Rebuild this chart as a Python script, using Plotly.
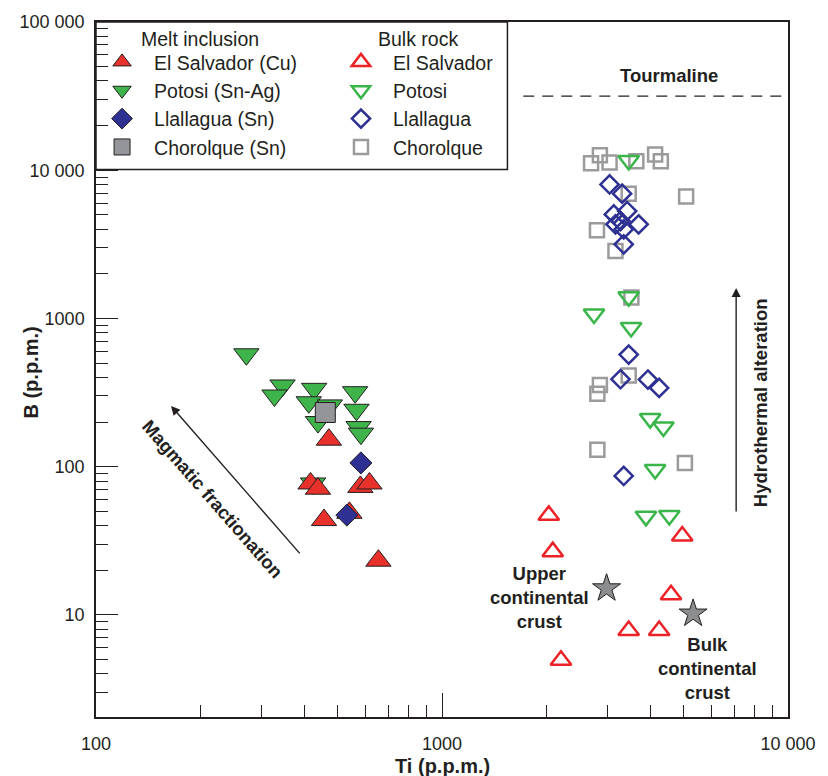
import plotly.graph_objects as go

# ---------------- data ----------------
melt_es_ti = [471, 417, 438, 581, 617, 456, 540, 655]
melt_es_b = [152, 77, 71, 73, 77, 43.6, 48.8, 23.2]

melt_pot_ti = [272, 346, 328, 427, 412, 474, 438, 561, 566, 574, 583, 424]
melt_pot_b = [573, 353, 302, 335, 272, 259, 200, 318, 242, 185, 167, 77]

melt_lla_ti = [583, 531]
melt_lla_b = [106, 47.1]

melt_cho_ti = [460]
melt_cho_b = [232]

bulk_es_ti = [2035, 2090, 4946, 4591, 3464, 4242, 2207]
bulk_es_b = [47, 26.7, 34, 13.65, 7.85, 7.85, 4.94]

bulk_pot_ti = [3464, 3464, 2750, 3520, 3997, 4364, 4130, 3886, 4540]
bulk_pot_b = [11620, 1400, 1071, 870, 211, 185, 95.6, 46.2, 46.9]

bulk_lla_ti = [3050, 3316, 3137, 3428, 3172, 3351, 3701, 3351, 3280, 3464, 3280, 3937, 4242, 3351]
bulk_lla_b = [8013, 6950, 5036, 5300, 4313, 3993, 4313, 3165, 4540, 570, 389, 387, 340, 86.6]

bulk_cho_ti = [2697, 2860, 3050, 3645, 4130, 4290, 3464, 5077, 2805, 3172, 3527, 3464, 2860, 2812, 2812, 5035]
bulk_cho_b = [11150, 12620, 11270, 11500, 12750, 11500, 6930, 6655, 3930, 2853, 1384, 412, 356, 310, 130, 106]

crust_ti = [2990, 5318]
crust_b = [15.1, 10.2]

tourmaline_b = 31600

x_tickvals = [100, 1000, 10000]
x_ticktext = ["100", "1000", "10 000"]
y_tickvals = [10, 100, 1000, 10000, 100000]
y_ticktext = ["10", "100", "1000", "10 000", "100 000"]

# ---------------- style ----------------
FONT = "Liberation Sans, Arial, Helvetica, sans-serif"
INK = "#231f20"
RED = "#e8312a"
GREEN = "#3fb44a"
BLUE = "#2e3192"
GRAY = "#939598"
RED_O = "#ec2227"
GREEN_O = "#3ab54a"
BLUE_O = "#2e3192"
GRAY_O = "#9b9b9b"

fig = go.Figure()

def filled(x, y, name, sym, color, size, legend, rank):
    fig.add_trace(go.Scatter(
        x=x, y=y, mode="markers", name=name, legend=legend, legendrank=rank,
        marker=dict(symbol=sym, size=size, color=color, line=dict(color=INK, width=1))))

def opened(x, y, name, sym, color, size, legend, rank):
    fig.add_trace(go.Scatter(
        x=x, y=y, mode="markers", name=name, legend=legend, legendrank=rank,
        marker=dict(symbol=sym + "-open", size=size, color=color, line=dict(color=color, width=2.5))))

# bulk rock (open)
opened(bulk_cho_ti, bulk_cho_b, "Chorolque", "square", GRAY_O, 14, "legend2", 4)
opened(bulk_lla_ti, bulk_lla_b, "Llallagua", "diamond", BLUE_O, 14, "legend2", 3)
opened(bulk_pot_ti, bulk_pot_b, "Potosi", "triangle-down", GREEN_O, 18, "legend2", 2)
opened(bulk_es_ti, bulk_es_b, "El Salvador", "triangle-up", RED_O, 18, "legend2", 1)

# melt inclusions (filled)
filled(melt_pot_ti, melt_pot_b, "Potosi (Sn-Ag)", "triangle-down", GREEN, 22, "legend", 2)
filled(melt_cho_ti, melt_cho_b, "Chorolque (Sn)", "square", GRAY, 20, "legend", 4)
filled(melt_es_ti, melt_es_b, "El Salvador (Cu)", "triangle-up", RED, 22, "legend", 1)
filled(melt_lla_ti, melt_lla_b, "Llallagua (Sn)", "diamond", BLUE, 17, "legend", 3)

# crust reference stars
fig.add_trace(go.Scatter(x=crust_ti, y=crust_b, mode="markers", showlegend=False,
                         marker=dict(symbol="star", size=21, color="#8c8d8f",
                                     line=dict(color=INK, width=1))))

minor_x = [m * 10 ** k for k in (2, 3) for m in range(2, 10)]
minor_y = [m * 10 ** k for k in (0, 1, 2, 3, 4) for m in range(2, 10)]

axis_common = dict(showline=True, linecolor=INK, linewidth=1.5, mirror=True,
                   showgrid=False, zeroline=False, ticks="inside", tickcolor=INK,
                   tickwidth=1.3, tickfont=dict(family=FONT, size=18, color=INK))

fig.update_xaxes(type="log", range=[2, 4], tickmode="array", tickvals=x_tickvals,
                 ticktext=x_ticktext, ticklen=24, ticklabelstandoff=10,
                 minor=dict(ticks="inside", ticklen=12, tickwidth=1.3, tickcolor=INK,
                            tickmode="array", tickvals=minor_x, showgrid=False),
                 **axis_common)
fig.update_yaxes(type="log", range=[0.311, 5.0], tickmode="array", tickvals=y_tickvals,
                 ticktext=y_ticktext, ticklen=22, ticklabelstandoff=6,
                 minor=dict(ticks="inside", ticklen=12, tickwidth=1.3, tickcolor=INK,
                            tickmode="array", tickvals=minor_y, showgrid=False),
                 **axis_common)

L, R, T, B = 96, 34, 20, 59
W, H = 828, 776
PW, PH = W - L - R, H - T - B

def px(xp):
    return (xp - L) / PW

def py(yp):
    return (H - B - yp) / PH

leg_common = dict(xanchor="left", yanchor="top", bgcolor="rgba(0,0,0,0)",
                  borderwidth=0, itemwidth=54, font=dict(family=FONT, size=19.5, color=INK),
                  traceorder="normal")

fig.update_layout(
    width=W, height=H,
    margin=dict(l=L, r=R, t=T, b=B),
    paper_bgcolor="white", plot_bgcolor="white",
    font=dict(family=FONT, color=INK),
    legend=dict(x=px(90), y=py(40.8), **leg_common),
    legend2=dict(x=px(331), y=py(40.8), **leg_common),
)

# legend frame
fig.add_shape(type="rect", xref="paper", yref="paper", x0=0, x1=px(511), y0=py(168), y1=1,
              line=dict(color=INK, width=1.5), layer="above")

# tourmaline line
fig.add_shape(type="line", xref="paper", yref="y", x0=px(527), x1=1,
              y0=tourmaline_b, y1=tourmaline_b,
              line=dict(color=INK, width=1.3, dash="11px,8px"))

bold = dict(family=FONT, size=18.5, color=INK)
C = dict(xanchor="center", yanchor="middle", xref="paper", yref="paper", showarrow=False)
ann = []
ann.append(dict(text="Melt inclusion", xref="paper", yref="paper", x=px(139), y=py(37),
                xanchor="left", yanchor="middle", showarrow=False,
                font=dict(family=FONT, size=19.5, color=INK)))
ann.append(dict(text="Bulk rock", xref="paper", yref="paper", x=px(378), y=py(37),
                xanchor="left", yanchor="middle", showarrow=False,
                font=dict(family=FONT, size=19.5, color=INK)))
ann.append(dict(text="<b>Tourmaline</b>", x=px(674), y=py(74), font=bold, **C))
ann.append(dict(text="<b>Upper<br>continental<br>crust</b>", x=px(543), y=py(597), font=bold, **C))
ann.append(dict(text="<b>Bulk<br>continental<br>crust</b>", x=px(713), y=py(668), font=bold, **C))
ann.append(dict(text="<b>Hydrothermal alteration</b>", x=px(767), y=py(402), textangle=-90,
                font=bold, **C))
ann.append(dict(text="<b>Magmatic fractionation</b>", x=px(214), y=py(499), textangle=48.8,
                font=bold, **C))
# arrows
ann.append(dict(text="", xref="paper", yref="paper", x=px(171.7), y=py(405),
                axref="pixel", ayref="pixel", ax=130, ay=149, showarrow=True,
                arrowhead=2, arrowsize=1.3, arrowwidth=1.4, arrowcolor=INK,
                standoff=0, startstandoff=0))
ann.append(dict(text="", xref="paper", yref="paper", x=px(741.7), y=py(286.7),
                axref="pixel", ayref="pixel", ax=0, ay=225, showarrow=True,
                arrowhead=2, arrowsize=1.3, arrowwidth=1.4, arrowcolor=INK,
                standoff=0, startstandoff=0))
# axis titles
ann.append(dict(text="<b>Ti (p.p.m.)</b>", x=0.5, y=py(766.5),
                font=dict(family=FONT, size=20, color=INK), **C))
ann.append(dict(text="<b>B (p.p.m.)</b>", x=px(30), y=py(372), textangle=-90,
                font=dict(family=FONT, size=20, color=INK), **C))
fig.update_layout(annotations=ann)

fig.write_html("out.html")
